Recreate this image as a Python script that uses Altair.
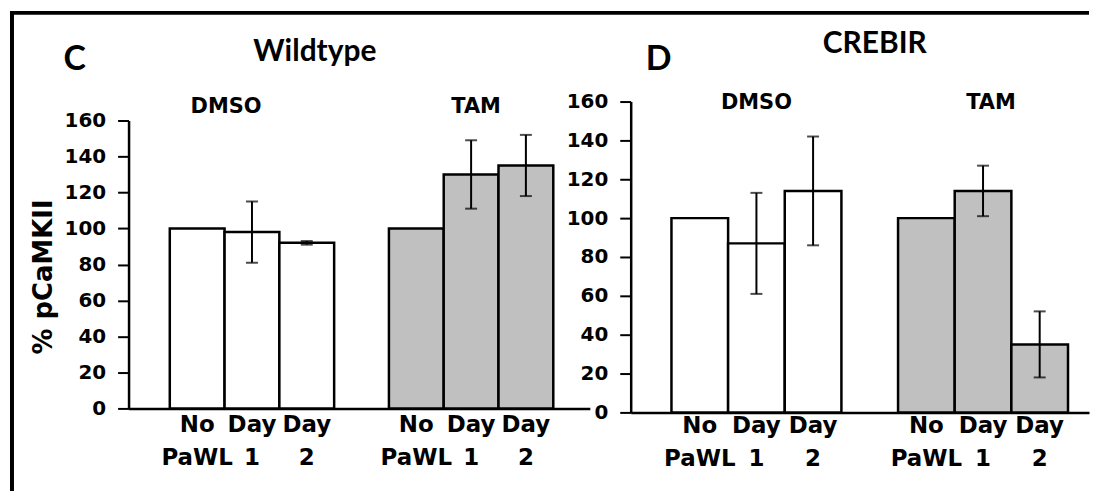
import altair as alt
import pandas as pd

# ---- data ----
groups = ["DMSO", "DMSO", "DMSO", "TAM", "TAM", "TAM"]
conditions = ["No PaWL", "Day 1", "Day 2", "No PaWL", "Day 1", "Day 2"]
wt_mean = [100, 98, 92, 100, 130, 135]
wt_err = [0, 17, 1, 0, 19, 17]
cr_mean = [100, 87, 114, 100, 114, 35]
cr_err = [0, 26, 28, 0, 13, 17]
slot_order = ["DMSO|No PaWL", "DMSO|Day 1", "DMSO|Day 2", "gap",
              "TAM|No PaWL", "TAM|Day 1", "TAM|Day 2"]
y_ticks = [0, 20, 40, 60, 80, 100, 120, 140, 160]
group_names = ["DMSO", "TAM"]
group_label_slots = ["DMSO|Day 1", "TAM|Day 1"]
y_title_text = "% pCaMKII"

LABEL_FONT = "DejaVu Sans"
TITLE_FONT = "Lato"

label_expr = ("indexof(datum.label, '|') < 0 ? '' : "
              "split(slice(datum.label, indexof(datum.label, '|') + 1), ' ')")


def panel(mean, err, letter, title, width, height, yrange, pad_outer, align,
          y_title_xy, group_label_y, group_dx, letter_xy, title_xy, x_label_pad,
          frame=None):
    df = pd.DataFrame({
        "group": groups,
        "slot": [g + "|" + c for g, c in zip(groups, conditions)],
        "mean": mean,
        "err": err,
    })
    df["lo"] = df["mean"] - df["err"]
    df["hi"] = df["mean"] + df["err"]
    df_err = df[df["err"] > 0]

    xscale = alt.Scale(domain=slot_order, paddingInner=0,
                       paddingOuter=pad_outer, align=align)
    xaxis = alt.Axis(labelExpr=label_expr, ticks=False, labelAngle=0,
                     labelOverlap=False, domainWidth=2.5,
                     labelFontSize=23, labelLineHeight=33,
                     labelPadding=x_label_pad, title=None)

    def X():
        return alt.X("slot:N", sort=slot_order, scale=xscale, axis=xaxis)

    yscale = alt.Scale(domain=[0, 160], nice=False)
    if yrange is not None:
        yscale = alt.Scale(domain=[0, 160], nice=False, range=yrange)
    yaxis = alt.Axis(values=y_ticks, tickSize=11, tickWidth=2, domainWidth=2.5,
                     labelPadding=12, labelFontSize=20, grid=False,
                     labelOverlap=False, title=None)

    def Y(field):
        return alt.Y(field, scale=yscale, axis=yaxis)

    bars = alt.Chart(df).mark_bar(stroke="black", strokeWidth=2.5).encode(
        x=X(),
        y=Y("mean:Q"),
        color=alt.Color("group:N", legend=None,
                        scale=alt.Scale(domain=["DMSO", "TAM"],
                                        range=["#ffffff", "#c0c0c0"])),
    )
    rules = alt.Chart(df_err).mark_rule(color="black", strokeWidth=2).encode(
        x=X(), y=Y("lo:Q"), y2="hi:Q",
    )
    cap_lo = alt.Chart(df_err).mark_tick(color="black", thickness=2, size=12).encode(
        x=X(), y=Y("lo:Q"),
    )
    cap_hi = alt.Chart(df_err).mark_tick(color="black", thickness=2, size=12).encode(
        x=X(), y=Y("hi:Q"),
    )
    layers = [bars, rules, cap_lo, cap_hi]
    for name, slot, dx in zip(group_names, group_label_slots, group_dx):
        gl = pd.DataFrame({"name": [name], "slot": [slot]})
        layers.append(alt.Chart(gl).mark_text(
            font=LABEL_FONT, fontWeight="bold", fontSize=21,
            baseline="alphabetic", color="black", dx=dx).encode(
            x=X(), y=alt.value(group_label_y), text="name:N"))
    letter_txt = alt.Chart(pd.DataFrame({"t": [letter]})).mark_text(
        font=TITLE_FONT, fontWeight="bold", fontSize=34, baseline="alphabetic",
        color="black").encode(x=alt.value(letter_xy[0]), y=alt.value(letter_xy[1]),
                              text="t:N")
    title_txt = alt.Chart(pd.DataFrame({"t": [title]})).mark_text(
        font=TITLE_FONT, fontWeight="bold", fontSize=30, baseline="alphabetic",
        color="black").encode(x=alt.value(title_xy[0]), y=alt.value(title_xy[1]),
                              text="t:N")
    layers += [letter_txt, title_txt]
    if y_title_xy is not None:
        layers.append(alt.Chart(pd.DataFrame({"t": [y_title_text]})).mark_text(
            font=LABEL_FONT, fontWeight="bold", fontSize=26, angle=270,
            align="center", baseline="middle", color="black").encode(
            x=alt.value(y_title_xy[0]), y=alt.value(y_title_xy[1]), text="t:N"))
    if frame is not None:
        fx, fy, fx2, fy2 = frame
        top = alt.Chart(pd.DataFrame({"k": [0]})).mark_rule(
            color="black", strokeWidth=4).encode(
            x=alt.value(fx - 2), x2=alt.value(fx2), y=alt.value(fy))
        left = alt.Chart(pd.DataFrame({"k": [0]})).mark_rule(
            color="black", strokeWidth=4).encode(
            x=alt.value(fx), y=alt.value(fy - 2), y2=alt.value(fy2))
        layers += [top, left]
    return alt.layer(*layers).properties(width=width, height=height)


c_panel = panel(wt_mean, wt_err, "C", "Wildtype", 463, 308, [308, 19],
                0.71, 0.53, (-85, 176), 11, [-26, 5], (-54, -32), (187, -41), 5,
                frame=(-117, -89, 964, 391))
d_panel = panel(cr_mean, cr_err, "D", "CREBIR", 460, 312, None,
                0.545, 0.66, None, 7, [0, 8], (28, -32), (245, -49), 2)

chart = alt.hconcat(c_panel, d_panel, spacing=41, bounds="flush").properties(
    padding=0, background="white"
).configure_view(stroke=None).configure_axis(
    domainColor="black", tickColor="black", labelColor="black",
    titleColor="black", labelFont=LABEL_FONT, titleFont=LABEL_FONT,
    labelFontWeight="bold", titleFontWeight="bold"
)

chart.save("out.html", embed_options={"renderer": "svg", "actions": False})
